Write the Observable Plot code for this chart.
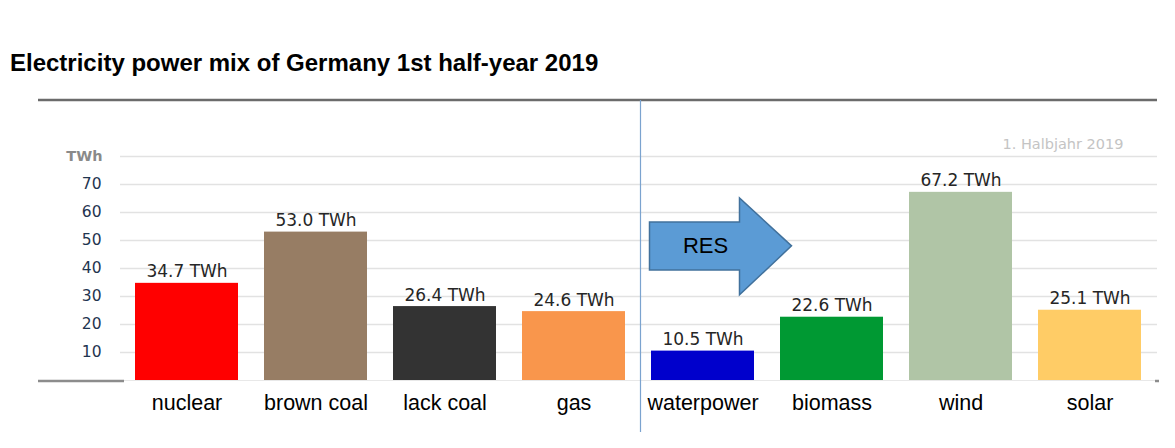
<!DOCTYPE html>
<html><head><meta charset="utf-8">
<script src="https://cdn.jsdelivr.net/npm/d3@7"></script>
<script src="https://cdn.jsdelivr.net/npm/@observablehq/plot@0.6"></script>
<style>
body{margin:0;background:#fff;}
#wrap{position:relative;width:1175px;height:448px;overflow:hidden;}
#wrap svg{position:absolute;left:0;top:0;}
#title{position:absolute;left:10px;top:49px;font:bold 24px "Liberation Sans",Arial,sans-serif;color:#000;white-space:nowrap;z-index:2;}
</style></head><body>
<div id="wrap"><div id="title">Electricity power mix of Germany 1st half-year 2019</div></div>
<script>
const sources = ["nuclear","brown coal","lack coal","gas","waterpower","biomass","wind","solar"];
const values = [34.7, 53.0, 26.4, 24.6, 10.5, 22.6, 67.2, 25.1];
const colors = ["#ff0000","#977d64","#333333","#f9964c","#0000cc","#009933","#b0c5a6","#ffcc66"];
const yTicks = [10, 20, 30, 40, 50, 60, 70];
const unitTick = 80;
const unitLabel = "TWh";
const periodLabel = "1. Halbjahr 2019";
const arrowLabel = "RES";

const data = sources.map((s, i) => ({source: s, value: values[i], color: colors[i]}));

const plot = Plot.plot({
  width: 1175, height: 448,
  marginTop: 156, marginBottom: 68, marginLeft: 120, marginRight: 18,
  style: {background: "transparent", overflow: "visible"},
  x: {domain: sources, paddingInner: 0.2, paddingOuter: 0.1},
  y: {domain: [0, 80], axis: null},
  marks: [
    Plot.ruleY([...yTicks, unitTick], {stroke: "#e2e2e2", strokeWidth: 1.5}),
    Plot.ruleY([0], {stroke: "#e8e8e8", strokeWidth: 1}),
    Plot.barY(data, {x: "source", y: "value", fill: "color"}),
    Plot.text(data, {x: "source", y: "value", text: d => d.value.toFixed(1) + " TWh",
      lineAnchor: "bottom", dy: -6, fontSize: 17, fill: "#262626", fontFamily: "DejaVu Sans"}),
    Plot.text(yTicks, {y: d => d, text: d => String(d), frameAnchor: "left", dx: -19, textAnchor: "end",
      fontSize: 15.5, fill: "#1f3550", fontFamily: "DejaVu Sans"}),
    Plot.text([unitTick], {y: d => d, text: () => unitLabel, frameAnchor: "left", dx: -18, textAnchor: "end",
      fontSize: 14.5, fontWeight: "bold", fill: "#8a8a8a", fontFamily: "DejaVu Sans"}),
    Plot.text([periodLabel], {text: d => d, frameAnchor: "top-right", dx: -34, dy: -18, textAnchor: "end",
      fontSize: 14.5, fill: "#c4c4c4", fontFamily: "DejaVu Sans"}),
    Plot.axisX({tickSize: 0, tickPadding: 14, fontSize: 21.5, fontFamily: "Liberation Sans", fill: "#000", label: null})
  ]
});

document.getElementById("wrap").appendChild(plot);

// decorations
const svg = d3.select(plot);
const xs = plot.scale("x");
const ys = plot.scale("y");
const sep = xs.apply("waterpower") - (xs.step - xs.bandwidth) / 2 + 2.5;
const deco = svg.append("g");
deco.append("line").attr("x1", 38).attr("x2", 1157).attr("y1", 100).attr("y2", 100)
  .attr("stroke", "#6b6b6b").attr("stroke-width", 2.5);
deco.append("line").attr("x1", sep).attr("x2", sep).attr("y1", 100).attr("y2", 432)
  .attr("stroke", "#7ba3cf").attr("stroke-width", 1.2);
const y0 = ys.apply(0);
deco.append("line").attr("x1", 38).attr("x2", 124).attr("y1", y0 + 1).attr("y2", y0 + 1)
  .attr("stroke", "#8c8c8c").attr("stroke-width", 2.5);
deco.append("line").attr("x1", 1155).attr("x2", 1159).attr("y1", y0 + 1).attr("y2", y0 + 1)
  .attr("stroke", "#8c8c8c").attr("stroke-width", 2.5);

// RES arrow
const ax0 = sep + 9, ax1 = ax0 + 142, ahx = ax0 + 90;
const bTop = ys.apply(56.4), bBot = ys.apply(39.3), hTop = ys.apply(65), hBot = ys.apply(30.4), tipY = ys.apply(47.9);
deco.append("path")
  .attr("d", `M${ax0},${bTop}L${ahx},${bTop}L${ahx},${hTop}L${ax1},${tipY}L${ahx},${hBot}L${ahx},${bBot}L${ax0},${bBot}Z`)
  .attr("fill", "#5b9bd5").attr("stroke", "#41719c").attr("stroke-width", 1.5);
deco.append("text").attr("x", ax0 + 56).attr("y", tipY + 7).attr("text-anchor", "middle")
  .attr("font-family", "Liberation Sans").attr("font-size", 22).attr("fill", "#000").text(arrowLabel);
</script>
</body></html>
